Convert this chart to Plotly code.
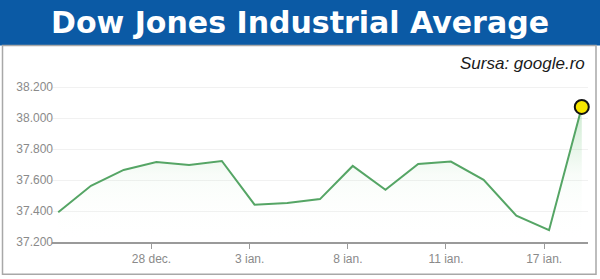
import plotly.graph_objects as go

# Data: trading-day index and closing values
day_index = [0, 1, 2, 3, 4, 5, 6, 7, 8, 9, 10, 11, 12, 13, 14, 15, 16]
values = [37392, 37563, 37665, 37717, 37697, 37723, 37441, 37452, 37477,
          37691, 37537, 37704, 37719, 37601, 37370, 37276, 38072]
tick_labels = ["28 dec.", "3 ian.", "8 ian.", "11 ian.", "17 ian."]
tick_days = [3, 6, 9, 12, 15]
y_ticks = [37200, 37400, 37600, 37800, 38000, 38200]

W, H = 600, 279
L, R = 52, 588          # plot area pixel bounds (x)
T, B = 83.6, 242.5      # plot area pixel bounds (y)
pw, ph = R - L, B - T

def px(xp):
    return (xp - L) / pw

def py(yp):
    return (B - yp) / ph

GREEN = "#55a565"
BLUE = "#0b5aa5"

fig = go.Figure()
fig.add_trace(go.Scatter(
    x=day_index, y=values, mode="lines",
    line=dict(color=GREEN, width=2),
    fill="tozeroy",
    fillgradient=dict(type="vertical", start=37200, stop=38072,
                      colorscale=[[0, "rgba(255,255,255,0)"],
                                  [0.5, "rgba(120,200,130,0.05)"],
                                  [1, "rgba(110,195,120,0.35)"]]),
    hoverinfo="skip", showlegend=False,
))
fig.add_trace(go.Scatter(
    x=[day_index[-1]], y=[values[-1]], mode="markers",
    marker=dict(size=14, color="#f7e600", line=dict(color="#111", width=2)),
    hoverinfo="skip", showlegend=False, cliponaxis=False,
))

shapes = [
    # header band
    dict(type="rect", xref="paper", yref="paper",
         x0=px(0), x1=px(W), y0=py(45), y1=py(-1),
         fillcolor=BLUE, line=dict(width=0), layer="below"),
    # panel border
    dict(type="rect", xref="paper", yref="paper",
         x0=px(2.5), x1=px(596), y0=py(275), y1=py(45),
         fillcolor="rgba(0,0,0,0)", line=dict(color="#a8a8a8", width=1.5), layer="below"),
]

fig.update_layout(
    width=W, height=H,
    margin=dict(l=L, r=W - R, t=T, b=H - B, pad=0),
    paper_bgcolor="white", plot_bgcolor="rgba(0,0,0,0)",
    separators=",.",
    font=dict(family="Liberation Sans, Arial, sans-serif"),
    shapes=shapes,
    title=dict(text="<b>Dow Jones Industrial Average</b>",
               x=0.5, xref="container", xanchor="center",
               y=1 - 22.5 / H, yref="container", yanchor="middle",
               font=dict(size=30, color="white",
                         family="DejaVu Sans, Liberation Sans, Arial, sans-serif")),
    annotations=[dict(text="<i>Sursa: google.ro</i>", xref="paper", yref="paper",
                      x=px(587), y=py(63), xanchor="right", yanchor="middle",
                      showarrow=False,
                      font=dict(size=17, color="#1a1a1a"))],
    xaxis=dict(range=[-0.19, 16.19], showgrid=False, zeroline=False,
               showline=True, linecolor="#9a9a9a", linewidth=1.5,
               tickmode="array", tickvals=[d - 0.15 for d in tick_days],
               ticktext=tick_labels, ticks="outside", ticklen=5,
               tickcolor="#9a9a9a", tickwidth=1,
               tickfont=dict(size=12, color="#8a8a8a")),
    yaxis=dict(range=[37200, 38220], tickmode="array", tickvals=y_ticks,
               tickformat=",d", showgrid=True, gridcolor="#f1f1f1",
               gridwidth=1, zeroline=False, showline=False,
               ticks="", ticklabelstandoff=-2,
               tickfont=dict(size=12, color="#8a8a8a")),
)

fig.write_html("out.html")
